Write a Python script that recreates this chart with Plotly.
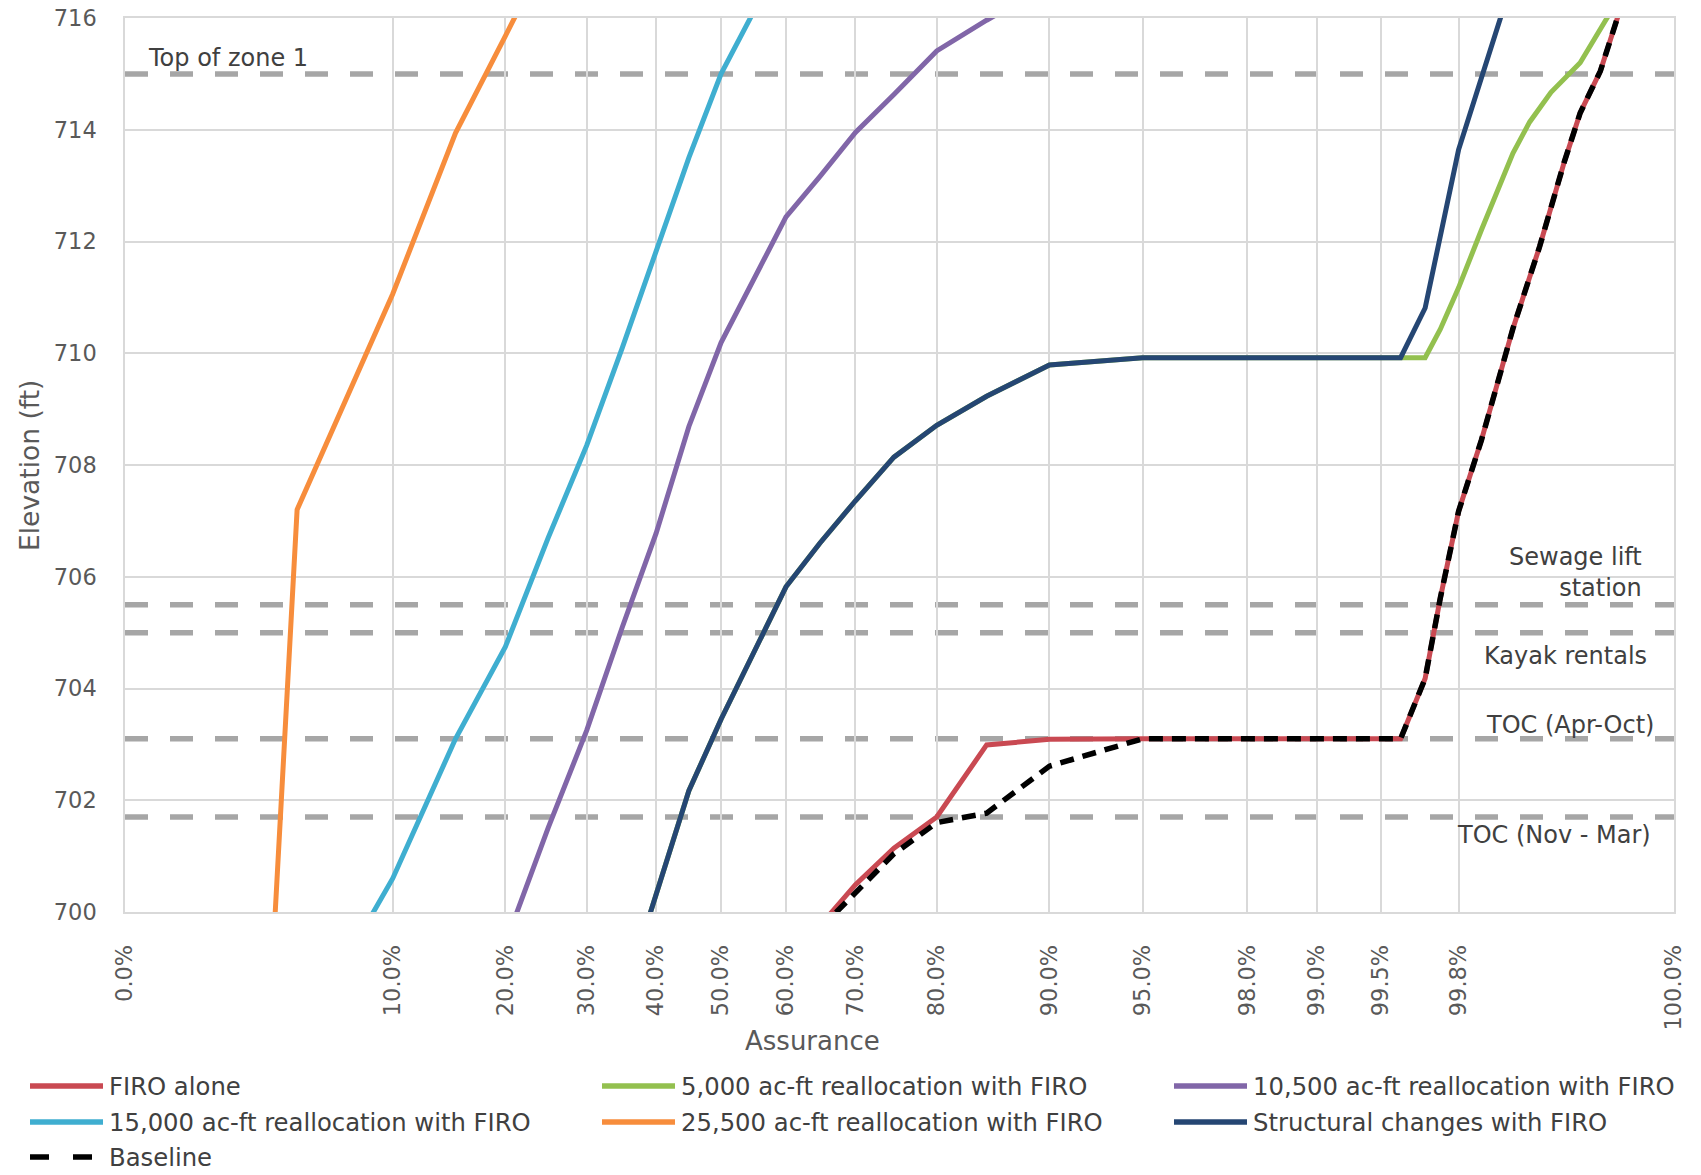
from statistics import NormalDist
import plotly.graph_objects as go

# ---------------------------------------------------------------------------
# Data: assurance (non-exceedance probability, %) vs. pool elevation (ft)
# ---------------------------------------------------------------------------
firo_pct = [65, 70, 75, 80, 85, 90, 95, 98, 99, 99.5, 99.6, 99.7, 99.75,
            99.8, 99.85, 99.9, 99.93, 99.95, 99.96, 99.97, 99.98]
firo_elev = [699.75, 700.49, 701.14, 701.70, 702.99, 703.09, 703.10, 703.10,
             703.10, 703.10, 703.10, 704.18, 705.62, 707.17, 708.45, 710.44,
             711.91, 713.42, 714.30, 715.05, 716.60]

realloc5000_pct = [35, 40, 45, 50, 55, 60, 65, 70, 75, 80, 85, 90, 95, 98, 99,
                   99.5, 99.6, 99.7, 99.75, 99.8, 99.85, 99.9, 99.92, 99.94,
                   99.96, 99.98]
realloc5000_elev = [698.40, 700.34, 702.17, 703.45, 704.65, 705.82, 706.60,
                    707.36, 708.14, 708.71, 709.23, 709.79, 709.92, 709.92,
                    709.92, 709.92, 709.92, 709.92, 710.43, 711.17, 712.21,
                    713.58, 714.14, 714.67, 715.20, 716.63]

realloc10500_pct = [20, 25, 30, 35, 40, 45, 50, 55, 60, 65, 70, 75, 80, 85, 90]
realloc10500_elev = [699.44, 701.51, 703.25, 705.10, 706.78, 708.69, 710.19,
                     711.29, 712.44, 713.16, 713.95, 714.63, 715.41, 715.96,
                     716.60]

realloc15000_pct = [5, 10, 15, 20, 25, 30, 35, 40, 45, 50, 55]
realloc15000_elev = [697.70, 700.60, 703.10, 704.75, 706.70, 708.35, 710.10,
                     711.80, 713.50, 715.00, 716.10]

realloc25500_pct = [4, 4.9, 10, 15, 20, 25]
realloc25500_elev = [699.10, 707.20, 711.06, 713.94, 715.68, 717.20]

structural_pct = [35, 40, 45, 50, 55, 60, 65, 70, 75, 80, 85, 90, 95, 98, 99,
                  99.5, 99.6, 99.7, 99.8, 99.9]
structural_elev = [698.40, 700.34, 702.17, 703.45, 704.65, 705.82, 706.60,
                   707.36, 708.14, 708.71, 709.23, 709.79, 709.92, 709.92,
                   709.92, 709.92, 709.92, 710.81, 713.64, 716.70]

baseline_pct = [65, 70, 75, 80, 85, 90, 95, 98, 99, 99.5, 99.6, 99.7, 99.75,
                99.8, 99.85, 99.9, 99.93, 99.95, 99.96, 99.97, 99.98]
baseline_elev = [699.70, 700.35, 701.04, 701.60, 701.77, 702.61, 703.10,
                 703.10, 703.10, 703.10, 703.10, 704.18, 705.62, 707.17,
                 708.45, 710.44, 711.91, 713.42, 714.30, 715.05, 716.60]

# Reference elevations drawn as dashed horizontal lines
ref_names = ["Top of zone 1", "Sewage lift<br>station", "Kayak rentals",
             "TOC (Apr-Oct)", "TOC (Nov - Mar)"]
ref_elev = [715.0, 705.5, 705.0, 703.1, 701.7]

# Probability-axis ticks (axis spans 1 % .. 99.99 %)
tick_pct = [1.0, 10, 20, 30, 40, 50, 60, 70, 80, 90, 95, 98, 99, 99.5, 99.8,
            99.99]
tick_text = ["0.0%", "10.0%", "20.0%", "30.0%", "40.0%", "50.0%", "60.0%",
             "70.0%", "80.0%", "90.0%", "95.0%", "98.0%", "99.0%", "99.5%",
             "99.8%", "100.0%"]
y_ticks = [700, 702, 704, 706, 708, 710, 712, 714, 716]

# ---------------------------------------------------------------------------
# Helpers
# ---------------------------------------------------------------------------
ND = NormalDist()


def zscore(pcts):
    """Map percentages onto a normal-probability (z) scale."""
    return [ND.inv_cdf(p / 100.0) for p in pcts]


W, H = 1701, 1175
PLOT_L, PLOT_R, PLOT_T, PLOT_B = 125, 1674, 18, 912
FONT = "DejaVu Sans"


def paper_x(px):
    return (px - PLOT_L) / (PLOT_R - PLOT_L)


def paper_y(py):
    return (PLOT_B - py) / (PLOT_B - PLOT_T)


# ---------------------------------------------------------------------------
# Series (drawing order)
# ---------------------------------------------------------------------------
series = [
    ("FIRO alone", firo_pct, firo_elev, "#C94952", None),
    ("5,000 ac-ft reallocation with FIRO", realloc5000_pct, realloc5000_elev, "#93C04F", None),
    ("10,500 ac-ft reallocation with FIRO", realloc10500_pct, realloc10500_elev, "#8166A8", None),
    ("15,000 ac-ft reallocation with FIRO", realloc15000_pct, realloc15000_elev, "#3FAED0", None),
    ("25,500 ac-ft reallocation with FIRO", realloc25500_pct, realloc25500_elev, "#F78D3C", None),
    ("Structural changes with FIRO", structural_pct, structural_elev, "#254673", None),
    ("Baseline", baseline_pct, baseline_elev, "#000000", "14px,9px"),
]

fig = go.Figure()
for name, pct, elev, color, dash in series:
    fig.add_trace(go.Scatter(
        x=zscore(pct), y=elev, mode="lines", name=name,
        line=dict(color=color, width=5.5 if dash else 5, dash=dash or "solid"),
        showlegend=False, hoverinfo="name+y",
    ))

shapes = []
annotations = []

# Dashed reference lines
for elev in ref_elev:
    shapes.append(dict(
        type="line", xref="paper", x0=0, x1=1, yref="y", y0=elev, y1=elev,
        line=dict(color="#A6A6A6", width=5.5, dash="23px,22px"),
        layer="between",
    ))

# Reference-line labels: (x pixel, anchor, vertical pixel shift)
ref_label_style = [
    (146, "left", 16),
    (1644, "right", 32),
    (1649, "right", -23),
    (1656, "right", 14),
    (1653, "right", -18),
]
for name, elev, (px, anchor, shift) in zip(ref_names, ref_elev, ref_label_style):
    annotations.append(dict(
        text=name, xref="paper", x=paper_x(px), xanchor=anchor,
        yref="y", y=elev, yanchor="middle", yshift=shift,
        showarrow=False, align="right",
        font=dict(family=FONT, size=24, color="#404040"),
    ))

# Axis titles
annotations.append(dict(
    text="Assurance", xref="paper", x=paper_x(812), yref="paper",
    y=paper_y(1041), xanchor="center", yanchor="middle", showarrow=False,
    font=dict(family=FONT, size=26, color="#595959"),
))
annotations.append(dict(
    text="Elevation (ft)", xref="paper", x=paper_x(29), yref="paper",
    y=paper_y(466), xanchor="center", yanchor="middle", textangle=-90,
    showarrow=False, font=dict(family=FONT, size=26.5, color="#595959"),
))

# Legend (three columns)
legend_cols = [30, 602, 1174]
legend_rows = [1086, 1122, 1157]
SAMPLE_LEN = 73
for i, (name, _, _, color, dash) in enumerate(series):
    col = legend_cols[i % 3]
    row = legend_rows[i // 3]
    shapes.append(dict(
        type="line", xref="paper", yref="paper",
        x0=paper_x(col), x1=paper_x(col + SAMPLE_LEN),
        y0=paper_y(row), y1=paper_y(row),
        line=dict(color=color, width=5.5, dash="19px,24px" if dash else "solid"),
    ))
    annotations.append(dict(
        text=name, xref="paper", x=paper_x(col + SAMPLE_LEN + 4),
        yref="paper", y=paper_y(row), xanchor="left", yanchor="middle",
        showarrow=False, font=dict(family=FONT, size=24.3, color="#404040"),
    ))

x_lo, x_hi = zscore([tick_pct[0], tick_pct[-1]])

fig.update_layout(
    width=W, height=H,
    margin=dict(l=PLOT_L, r=W - PLOT_R, t=PLOT_T, b=H - PLOT_B,
                autoexpand=False),
    paper_bgcolor="white", plot_bgcolor="white",
    font=dict(family=FONT, color="#595959"),
    shapes=shapes, annotations=annotations,
    xaxis=dict(
        range=[x_lo, x_hi], tickmode="array", tickvals=zscore(tick_pct),
        ticktext=tick_text, tickangle=-90, ticks="", automargin=False,
        tickfont=dict(family=FONT, size=22.5, color="#595959"),
        ticklabelstandoff=22,
        showgrid=True, gridcolor="#D9D9D9", gridwidth=1.5,
        showline=True, linecolor="#D9D9D9", linewidth=1.5, mirror=True,
        zeroline=False,
    ),
    yaxis=dict(
        range=[700, 716], tickmode="array", tickvals=y_ticks, ticks="",
        automargin=False,
        tickfont=dict(family=FONT, size=22.5, color="#595959"),
        ticklabelstandoff=22,
        showgrid=True, gridcolor="#D9D9D9", gridwidth=1.5,
        showline=True, linecolor="#D9D9D9", linewidth=1.5, mirror=True,
        zeroline=False,
    ),
)

fig.write_html("out.html")
